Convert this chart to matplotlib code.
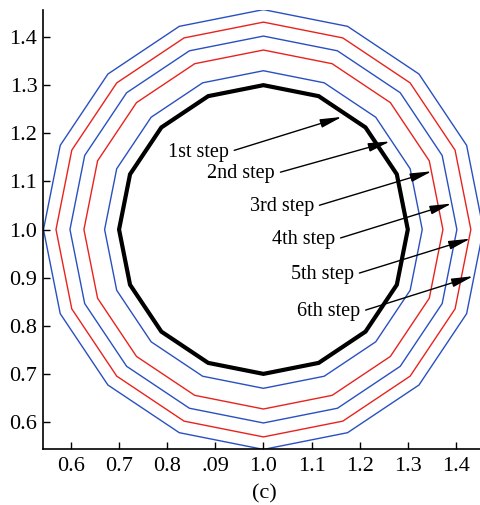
import matplotlib
matplotlib.use("Agg")
from matplotlib import pyplot as plt
from matplotlib.patches import RegularPolygon

# polygon radii (innermost black one is the original contour)
radii = [0.300, 0.330, 0.373, 0.402, 0.431, 0.457]
colors = ["black", "#2a50c0", "#e8231e", "#2a50c0", "#e8231e", "#2a50c0"]
center = (1.0, 1.0)
n_sides = 16

step_labels = ["1st step", "2nd step", "3rd step", "4th step", "5th step", "6th step"]
arrow_tips = [(1.163, 1.234), (1.263, 1.183), (1.350, 1.121),
              (1.391, 1.054), (1.430, 0.981), (1.436, 0.903)]
label_pos = [(0.928, 1.161), (1.024, 1.116), (1.105, 1.047),
             (1.149, 0.979), (1.188, 0.906), (1.201, 0.829)]

x_ticks = [0.6, 0.7, 0.8, 0.9, 1.0, 1.1, 1.2, 1.3, 1.4]
x_tick_labels = ["0.6", "0.7", "0.8", ".09", "1.0", "1.1", "1.2", "1.3", "1.4"]
y_ticks = [0.6, 0.7, 0.8, 0.9, 1.0, 1.1, 1.2, 1.3, 1.4]

plt.rcParams["font.family"] = ["Liberation Serif", "DejaVu Serif"]

fig = plt.figure(figsize=(4.8, 5.05), dpi=100)
ax = fig.add_axes([0.0896, 0.111, 0.9104, 0.869])

for r, c in zip(radii, colors):
    lw = 3.0 if c == "black" else 1.0
    ax.add_patch(RegularPolygon(center, numVertices=n_sides, radius=r,
                                fill=False, edgecolor=c, linewidth=lw))

for text, tip, pos in zip(step_labels, arrow_tips, label_pos):
    ax.annotate(text, xy=tip, xytext=pos, ha="right", va="center", fontsize=14.5,
                arrowprops=dict(arrowstyle="-|>,head_length=0.9,head_width=0.18",
                                color="black", lw=1.0, relpos=(1.0, 0.5),
                                shrinkA=2, shrinkB=0))

ax.set_xlim(0.542, 1.45)
ax.set_ylim(0.544, 1.456)
ax.set_xticks(x_ticks)
ax.set_xticklabels(x_tick_labels)
ax.set_yticks(y_ticks)
ax.set_yticklabels([f"{v:.1f}" for v in y_ticks])
ax.tick_params(direction="in", length=5, width=1, labelsize=16)
ax.tick_params(axis="x", pad=6)
ax.tick_params(axis="y", pad=4)
ax.spines["top"].set_visible(False)
ax.spines["right"].set_visible(False)
ax.spines["left"].set_linewidth(1.2)
ax.spines["bottom"].set_linewidth(1.2)

fig.text(0.55, 0.022, "(c)", ha="center", va="center", fontsize=16)

fig.savefig("out.png", dpi=100)
